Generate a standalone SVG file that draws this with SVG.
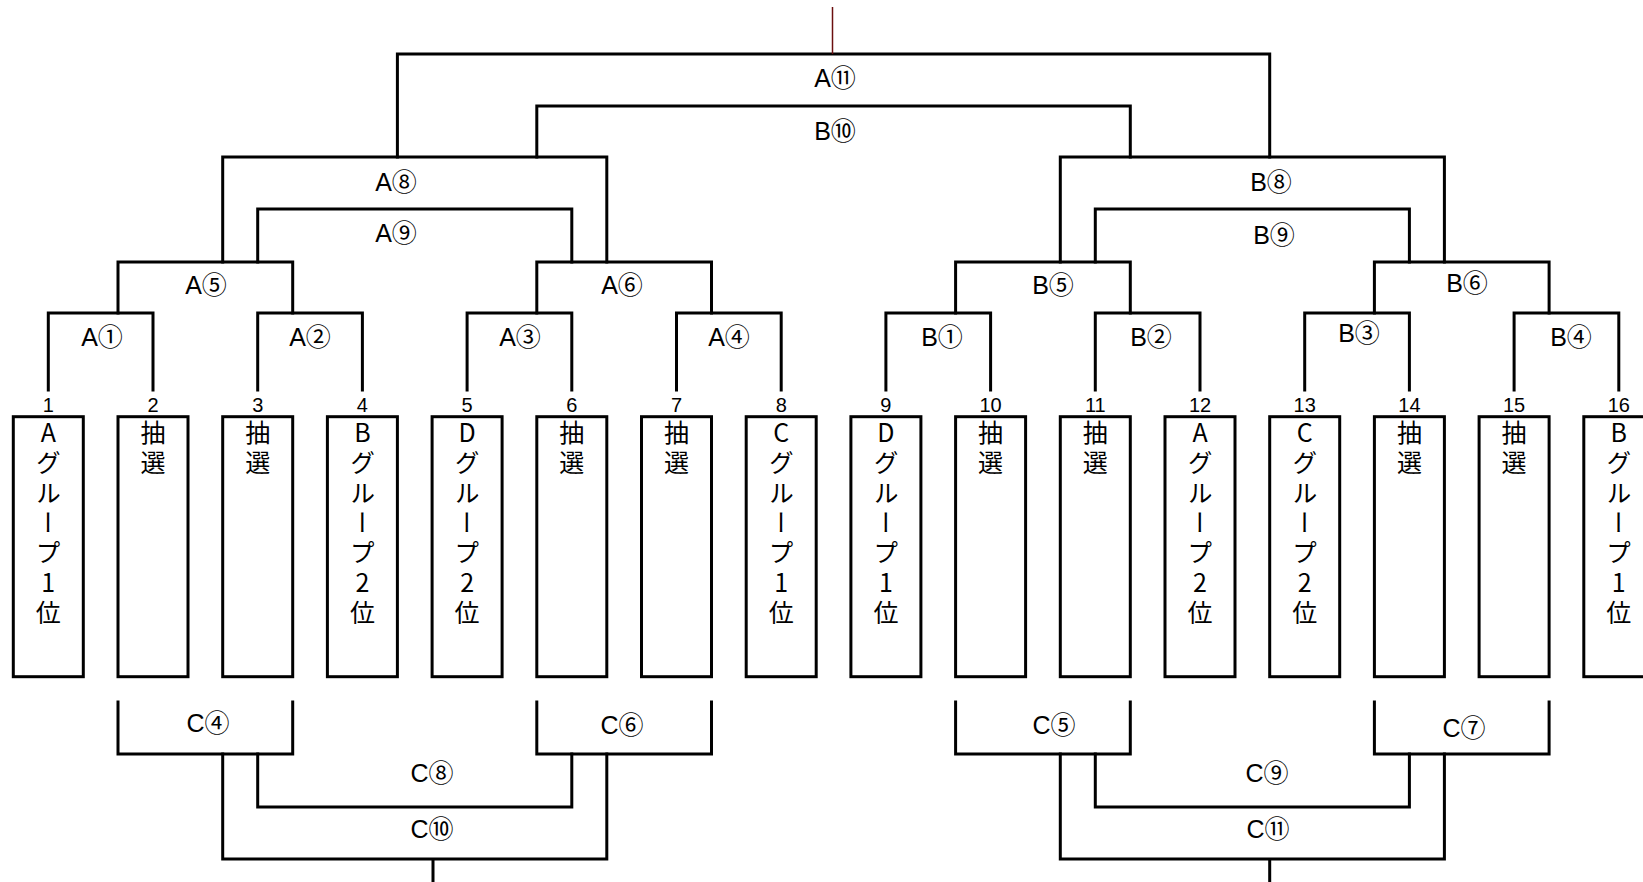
<svg xmlns="http://www.w3.org/2000/svg" width="1643" height="882" viewBox="0 0 1643 882">
<style>
.ln{fill:none;stroke:#000;stroke-width:3;stroke-linejoin:miter;stroke-linecap:square}
.box{fill:#fff;stroke:#000;stroke-width:3}
.lb{font-family:"Liberation Sans","Noto Sans CJK JP",sans-serif;font-size:25px;text-anchor:middle;fill:#000}
.no{font-family:"Liberation Sans","Noto Sans CJK JP",sans-serif;font-size:20px;text-anchor:middle;fill:#000}
.vt{font-family:"Noto Sans CJK JP",sans-serif;font-size:25px;writing-mode:vertical-rl;text-orientation:upright;letter-spacing:5px;fill:#000}
</style>
<rect width="1643" height="882" fill="#fff"/>
<g id="connectors">
<path class="ln" d="M48.3 390V313H153V390M257.7 390V313H362.4V390M467.1 390V313H571.8V390M676.5 390V313H781.2V390M885.9 390V313H990.6V390M1095.3 390V313H1200V390M1304.7 390V313H1409.4V390M1514.1 390V313H1618.8V390"/>
<path class="ln" d="M118 313V262H292.7V313M536.8 313V262H711.5V313M955.6 313V262H1130.3V313M1374.4 313V262H1549.1V313"/>
<path class="ln" d="M257.7 262V209H571.8V262M222.7 262V157H606.8V262M1095.3 262V209H1409.4V262M1060.3 262V157H1444.4V262"/>
<path class="ln" d="M536.8 157V106H1130.3V157M397.4 157V54H1269.7V157"/>
<path fill="none" stroke="#6b0f0f" stroke-width="1.5" d="M832.5 7V54"/>
<path class="ln" d="M118 702V754H292.7V702M536.8 702V754H711.5V702M955.6 702V754H1130.3V702M1374.4 702V754H1549.1V702"/>
<path class="ln" d="M257.7 754V807H571.8V754M222.7 754V859H606.8V754M433 859V884M1095.3 754V807H1409.4V754M1060.3 754V859H1444.4V754M1269.7 859V884"/>
</g>
<g id="labels">
<text class="lb" x="835" y="87">A⑪</text>
<text class="lb" x="835" y="140">B⑩</text>
<text class="lb" x="396" y="191">A⑧</text>
<text class="lb" x="396" y="242">A⑨</text>
<text class="lb" x="1271" y="191">B⑧</text>
<text class="lb" x="1274" y="244">B⑨</text>
<text class="lb" x="206" y="294">A⑤</text>
<text class="lb" x="622" y="294">A⑥</text>
<text class="lb" x="1053" y="294">B⑤</text>
<text class="lb" x="1467" y="292">B⑥</text>
<text class="lb" x="102" y="346">A①</text>
<text class="lb" x="310" y="346">A②</text>
<text class="lb" x="520" y="346">A③</text>
<text class="lb" x="729" y="346">A④</text>
<text class="lb" x="942" y="346">B①</text>
<text class="lb" x="1151" y="346">B②</text>
<text class="lb" x="1359" y="342">B③</text>
<text class="lb" x="1571" y="346">B④</text>
<text class="lb" x="208" y="732">C④</text>
<text class="lb" x="622" y="734">C⑥</text>
<text class="lb" x="1054" y="734">C⑤</text>
<text class="lb" x="1464" y="737">C⑦</text>
<text class="lb" x="432" y="782">C⑧</text>
<text class="lb" x="432" y="838">C⑩</text>
<text class="lb" x="1267" y="782">C⑨</text>
<text class="lb" x="1268" y="838">C⑪</text>
</g>
<g id="n1"><text class="no" x="48.3" y="412">1</text><rect class="box" x="13.3" y="416.7" width="70" height="260"/><text class="vt" x="48.3" y="420">Aグループ1位</text></g>
<g id="n2"><text class="no" x="153" y="412">2</text><rect class="box" x="118" y="416.7" width="70" height="260"/><text class="vt" x="153" y="420">抽選</text></g>
<g id="n3"><text class="no" x="257.7" y="412">3</text><rect class="box" x="222.7" y="416.7" width="70" height="260"/><text class="vt" x="257.7" y="420">抽選</text></g>
<g id="n4"><text class="no" x="362.4" y="412">4</text><rect class="box" x="327.4" y="416.7" width="70" height="260"/><text class="vt" x="362.4" y="420">Bグループ2位</text></g>
<g id="n5"><text class="no" x="467.1" y="412">5</text><rect class="box" x="432.1" y="416.7" width="70" height="260"/><text class="vt" x="467.1" y="420">Dグループ2位</text></g>
<g id="n6"><text class="no" x="571.8" y="412">6</text><rect class="box" x="536.8" y="416.7" width="70" height="260"/><text class="vt" x="571.8" y="420">抽選</text></g>
<g id="n7"><text class="no" x="676.5" y="412">7</text><rect class="box" x="641.5" y="416.7" width="70" height="260"/><text class="vt" x="676.5" y="420">抽選</text></g>
<g id="n8"><text class="no" x="781.2" y="412">8</text><rect class="box" x="746.2" y="416.7" width="70" height="260"/><text class="vt" x="781.2" y="420">Cグループ1位</text></g>
<g id="n9"><text class="no" x="885.9" y="412">9</text><rect class="box" x="850.9" y="416.7" width="70" height="260"/><text class="vt" x="885.9" y="420">Dグループ1位</text></g>
<g id="n10"><text class="no" x="990.6" y="412">10</text><rect class="box" x="955.6" y="416.7" width="70" height="260"/><text class="vt" x="990.6" y="420">抽選</text></g>
<g id="n11"><text class="no" x="1095.3" y="412">11</text><rect class="box" x="1060.3" y="416.7" width="70" height="260"/><text class="vt" x="1095.3" y="420">抽選</text></g>
<g id="n12"><text class="no" x="1200" y="412">12</text><rect class="box" x="1165" y="416.7" width="70" height="260"/><text class="vt" x="1200" y="420">Aグループ2位</text></g>
<g id="n13"><text class="no" x="1304.7" y="412">13</text><rect class="box" x="1269.7" y="416.7" width="70" height="260"/><text class="vt" x="1304.7" y="420">Cグループ2位</text></g>
<g id="n14"><text class="no" x="1409.4" y="412">14</text><rect class="box" x="1374.4" y="416.7" width="70" height="260"/><text class="vt" x="1409.4" y="420">抽選</text></g>
<g id="n15"><text class="no" x="1514.1" y="412">15</text><rect class="box" x="1479.1" y="416.7" width="70" height="260"/><text class="vt" x="1514.1" y="420">抽選</text></g>
<g id="n16"><text class="no" x="1618.8" y="412">16</text><rect class="box" x="1583.8" y="416.7" width="70" height="260"/><text class="vt" x="1618.8" y="420">Bグループ1位</text></g>
</svg>
